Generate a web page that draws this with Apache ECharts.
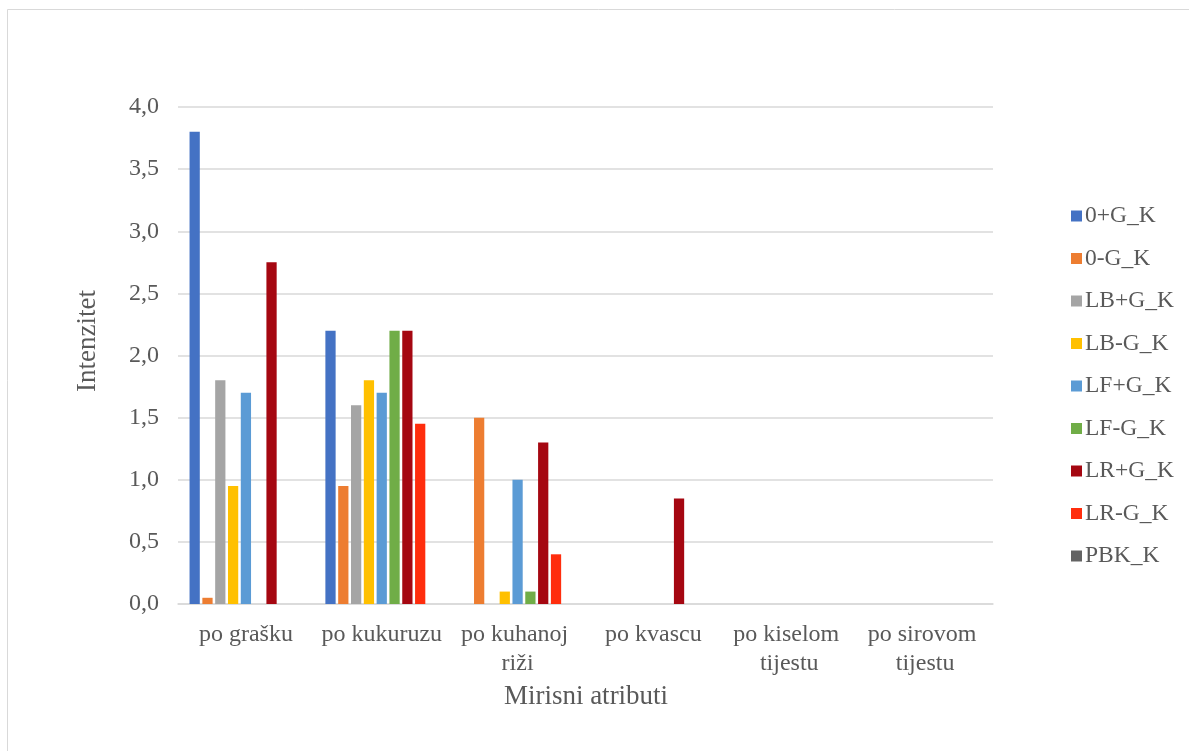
<!DOCTYPE html>
<html><head><meta charset="utf-8">
<script src="https://cdn.jsdelivr.net/npm/echarts@6/dist/echarts.min.js"></script>
<style>html,body{margin:0;padding:0;background:#fff}#c{width:1189px;height:751px}</style>
</head><body><div id="c"></div>
<script>
const categories = ['po grašku', 'po kukuruzu', 'po kuhanoj riži', 'po kvascu', 'po kiselom tijestu', 'po sirovom tijestu'];
const seriesNames = ['0+G_K', '0-G_K', 'LB+G_K', 'LB-G_K', 'LF+G_K', 'LF-G_K', 'LR+G_K', 'LR-G_K', 'PBK_K'];
const s_0pG = [3.8, 2.2, 0, 0, 0, 0];
const s_0mG = [0.05, 0.95, 1.5, 0, 0, 0];
const s_LBpG = [1.8, 1.6, 0, 0, 0, 0];
const s_LBmG = [0.95, 1.8, 0.1, 0, 0, 0];
const s_LFpG = [1.7, 1.7, 1.0, 0, 0, 0];
const s_LFmG = [0, 2.2, 0.1, 0, 0, 0];
const s_LRpG = [2.75, 2.2, 1.3, 0.85, 0, 0];
const s_LRmG = [0, 1.45, 0.4, 0, 0, 0];
const s_PBK = [0, 0, 0, 0, 0, 0];
const yTicks = [0, 0.5, 1, 1.5, 2, 2.5, 3, 3.5, 4];
const colors = ['#4472C4', '#ED7D31', '#A5A5A5', '#FFC000', '#5B9BD5', '#70AD47', '#A50711', '#FF2D0D', '#636363'];
const allSeries = [s_0pG, s_0mG, s_LBpG, s_LBmG, s_LFpG, s_LFmG, s_LRpG, s_LRmG, s_PBK];

const font = 'Liberation Serif';
const txt = '#595959';
const chart = echarts.init(document.getElementById('c'));
chart.setOption({
  animation: false,
  backgroundColor: '#fff',
  color: colors,
  grid: { left: 178, right: 196, top: 107, bottom: 147, containLabel: false },
  legend: {
    orient: 'vertical', left: 1066, top: 197,
    itemWidth: 11, itemHeight: 11, itemGap: 14.5,
    icon: 'rect',
    textStyle: { fontFamily: font, fontSize: 23.5, color: txt, padding: [0, 0, 0, -2], lineHeight: 28 },
    data: seriesNames
  },
  xAxis: {
    type: 'category', data: categories,
    axisLine: { lineStyle: { color: '#d9d9d9', width: 1.5 } },
    axisTick: { show: false },
    axisLabel: { fontFamily: font, fontSize: 24, color: txt, margin: 16, width: 128, overflow: 'break', lineHeight: 29, interval: 0 }
  },
  yAxis: {
    type: 'value', min: 0, max: 4, interval: 0.5,
    axisLine: { show: false }, axisTick: { show: false },
    splitLine: { lineStyle: { color: '#d9d9d9', width: 1.5 } },
    axisLabel: { fontFamily: font, fontSize: 24, color: txt, margin: 19,
      formatter: v => v.toFixed(1).replace('.', ',') }
  },
  series: allSeries.map((d, i) => ({
    name: seriesNames[i], type: 'bar', data: d,
    barGap: '25%', barCategoryGap: '17%',
    itemStyle: { color: colors[i] }
  })),
  graphic: [
    { type: 'rect', x: 7.5, y: 9.5, shape: { width: 1300, height: 900 }, style: { fill: 'none', stroke: '#d9d9d9', lineWidth: 1 }, silent: true, z: -1 },
    { type: 'text', x: 586, y: 697, style: { text: 'Mirisni atributi', font: '27px "Liberation Serif"', fill: txt, align: 'center', verticalAlign: 'middle' } },
    { type: 'text', rotation: Math.PI / 2, x: 88, y: 341, style: { text: 'Intenzitet', font: '27px "Liberation Serif"', fill: txt, align: 'center', verticalAlign: 'middle' } }
  ]
});
</script></body></html>
